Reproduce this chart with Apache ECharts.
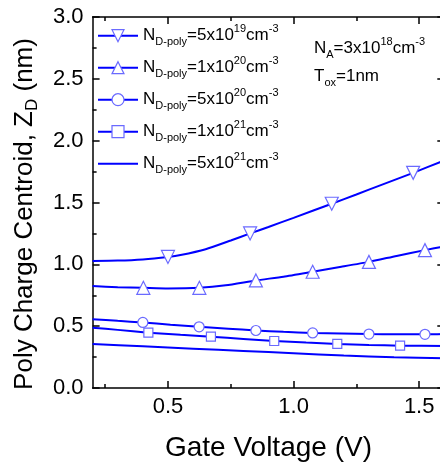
<!DOCTYPE html>
<html>
<head>
<meta charset="utf-8">
<script src="https://cdn.jsdelivr.net/npm/echarts@6/dist/echarts.min.js"></script>
<style>
  html, body { margin: 0; padding: 0; overflow: hidden; background: #fff; }
  #chart { width: 460px; height: 464px; }
</style>
</head>
<body>
<div id="chart"></div>
<script>
// Poly charge centroid Z_D (nm) versus gate voltage (V) for several poly doping levels.
const FONT = '"Liberation Sans", Arial, sans-serif';
const LINE = '#0000ff';
const MARK = '#6a6aff';

// Axis ticks
const xMajorTicks = [0.5, 1.0, 1.5];
const xMinorTicks = [0.25, 0.75, 1.25];

// Legend text pieces: N_D-poly = mant x 10^exp cm^-3
const dopingMant = ['5', '1', '5', '1', '5'];
const dopingExp = ['19', '20', '20', '21', '21'];

// N_D-poly = 5e19 cm^-3
const vg1 = [0.2, 0.3, 0.4, 0.5, 0.55, 0.65, 0.75, 0.827, 0.9, 1.0, 1.152, 1.25, 1.35, 1.476, 1.6];
const zd1 = [1.027, 1.03, 1.04, 1.06, 1.075, 1.122, 1.193, 1.25, 1.302, 1.376, 1.49, 1.565, 1.643, 1.74, 1.84];
const mk1 = [0.5, 0.827, 1.152, 1.476];

// N_D-poly = 1e20 cm^-3
const vg2 = [0.2, 0.3, 0.402, 0.5, 0.625, 0.73, 0.85, 0.96, 1.076, 1.19, 1.30, 1.41, 1.523, 1.6];
const zd2 = [0.825, 0.815, 0.81, 0.805, 0.81, 0.83, 0.87, 0.90, 0.94, 0.98, 1.02, 1.068, 1.115, 1.145];
const mk2 = [0.402, 0.625, 0.85, 1.076, 1.30, 1.523];

// N_D-poly = 5e20 cm^-3
const vg3 = [0.2, 0.3, 0.4, 0.51, 0.624, 0.74, 0.85, 0.96, 1.076, 1.19, 1.30, 1.41, 1.523, 1.6];
const zd3 = [0.556, 0.543, 0.53, 0.512, 0.495, 0.48, 0.465, 0.454, 0.445, 0.44, 0.436, 0.434, 0.434, 0.437];
const mk3 = [0.4, 0.624, 0.85, 1.076, 1.30, 1.523];

// N_D-poly = 1e21 cm^-3
const vg4 = [0.2, 0.3, 0.422, 0.55, 0.671, 0.8, 0.923, 1.05, 1.174, 1.3, 1.424, 1.6];
const zd4 = [0.488, 0.47, 0.447, 0.43, 0.415, 0.397, 0.38, 0.367, 0.356, 0.348, 0.342, 0.34];
const mk4 = [0.422, 0.671, 0.923, 1.174, 1.424];

// N_D-poly = 5e21 cm^-3
const vg5 = [0.2, 0.4, 0.6, 0.8, 1.0, 1.2, 1.4, 1.6];
const zd5 = [0.356, 0.337, 0.318, 0.30, 0.281, 0.262, 0.249, 0.24];
const mk5 = [];

const seriesNames = dopingMant.map((m, i) => 'N_D-poly=' + m + 'x10^' + dopingExp[i] + 'cm^-3');

function buildData(vg, zd, marks) {
  return vg.map((x, i) => marks.indexOf(x) >= 0
    ? { value: [x, zd[i]] }
    : { value: [x, zd[i]], symbol: 'none' });
}

function makeSeries(idx, vg, zd, marks, symbol, size, rotate, hideMark) {
  return {
    type: 'line',
    name: seriesNames[idx],
    data: buildData(vg, zd, marks),
    xAxisIndex: 0,
    yAxisIndex: 0,
    smooth: 0.2,
    symbol: symbol,
    symbolSize: size,
    symbolRotate: rotate || 0,
    showAllSymbol: true,
    lineStyle: { color: LINE, width: 2 },
    itemStyle: hideMark
      ? { color: 'rgba(0,0,0,0)', borderColor: 'rgba(0,0,0,0)', borderWidth: 0 }
      : { color: '#fff', borderColor: MARK, borderWidth: 1.2 },
    emphasis: { disabled: true },
    silent: true
  };
}

const richBase = {
  n: { fontSize: 17, lineHeight: 24, fontFamily: FONT, color: '#000' },
  sb: { fontSize: 11, lineHeight: 10, fontFamily: FONT, color: '#000', verticalAlign: 'bottom' },
  sp: { fontSize: 11, lineHeight: 10, fontFamily: FONT, color: '#000', verticalAlign: 'top' }
};

function xAxisDef(pos, values, len, showLine, showLabel, extra) {
  return Object.assign({
    type: 'value', position: pos, min: 0.2, max: 1.6,
    axisLine: { show: showLine, onZero: false, lineStyle: { color: '#000', width: 1.5 } },
    axisTick: { show: true, inside: true, length: len, customValues: values,
      lineStyle: { color: '#000', width: 1.5 } },
    axisLabel: { show: showLabel, customValues: values, margin: 8,
      fontSize: 22, fontFamily: FONT, color: '#000',
      formatter: v => v.toFixed(1) },
    splitLine: { show: false }
  }, extra || {});
}

function yAxisDef(pos, showLabel) {
  return {
    type: 'value', position: pos, min: 0, max: 3, interval: 0.5,
    axisLine: { show: true, onZero: false, lineStyle: { color: '#000', width: 1.5 } },
    axisTick: { show: true, inside: true, length: 7, lineStyle: { color: '#000', width: 1.5 } },
    minorTick: { show: true, splitNumber: 2, length: 4, lineStyle: { color: '#000', width: 1.5 } },
    axisLabel: { show: showLabel, margin: 9, fontSize: 22, fontFamily: FONT, color: '#000',
      formatter: v => v.toFixed(1) },
    splitLine: { show: false },
    minorSplitLine: { show: false }
  };
}

const chart = echarts.init(document.getElementById('chart'), null, { renderer: 'canvas' });

chart.setOption({
  animation: false,
  backgroundColor: '#fff',
  grid: { left: 92.6, top: 17, width: 351.7, height: 371, containLabel: false, outerBoundsMode: 'none' },
  xAxis: [
    xAxisDef('bottom', xMajorTicks, 7, true, true, {
      name: 'Gate Voltage (V)', nameLocation: 'middle', nameGap: 46,
      nameTextStyle: { fontSize: 28, fontFamily: FONT, color: '#000' }
    }),
    xAxisDef('bottom', xMinorTicks, 4, false, false),
    xAxisDef('top', xMajorTicks, 7, true, false),
    xAxisDef('top', xMinorTicks, 4, false, false)
  ],
  yAxis: [yAxisDef('left', true), yAxisDef('right', false)],
  legend: {
    orient: 'vertical',
    left: 97,
    top: 23.7,
    padding: 0,
    itemGap: 8,
    itemWidth: 40,
    itemHeight: 15,
    itemStyle: { borderWidth: 1.2 },
    selectedMode: false,
    data: seriesNames,
    textStyle: { fontSize: 17, fontFamily: FONT, color: '#000', rich: richBase },
    formatter: name => {
      const i = seriesNames.indexOf(name);
      return '{n|N}{sb|D-poly}{n|=' + dopingMant[i] + 'x10}{sp|' + dopingExp[i] + '}{n|cm}{sp|-3}';
    }
  },
  graphic: [
    {
      type: 'text', x: 314, y: 48, silent: true,
      style: {
        text: '{n|N}{sb|A}{n|=3x10}{sp|18}{n|cm}{sp|-3}',
        rich: richBase, align: 'left', verticalAlign: 'middle',
        textAlign: 'left', textVerticalAlign: 'middle'
      }
    },
    {
      type: 'text', x: 314, y: 76, silent: true,
      style: {
        text: '{n|T}{sb|ox}{n|=1nm}',
        rich: richBase, align: 'left', verticalAlign: 'middle',
        textAlign: 'left', textVerticalAlign: 'middle'
      }
    },
    {
      type: 'text', x: 25, y: 214, rotation: Math.PI / 2, silent: true,
      style: {
        text: '{t|Poly Charge Centroid, Z}{s|D}{t| (nm)}',
        rich: {
          t: { fontSize: 26, lineHeight: 32, fontFamily: FONT, color: '#000' },
          s: { fontSize: 17, lineHeight: 16, fontFamily: FONT, color: '#000', verticalAlign: 'bottom' }
        },
        align: 'center', verticalAlign: 'middle',
        textAlign: 'center', textVerticalAlign: 'middle'
      }
    }
  ],
  series: [
    makeSeries(0, vg1, zd1, mk1, 'triangle', 13, 180, false),
    makeSeries(1, vg2, zd2, mk2, 'triangle', 13, 0, false),
    makeSeries(2, vg3, zd3, mk3, 'circle', 10, 0, false),
    makeSeries(3, vg4, zd4, mk4, 'rect', 9, 0, false),
    makeSeries(4, vg5, zd5, mk5, 'circle', 10, 0, true)
  ]
});
</script>
</body>
</html>
